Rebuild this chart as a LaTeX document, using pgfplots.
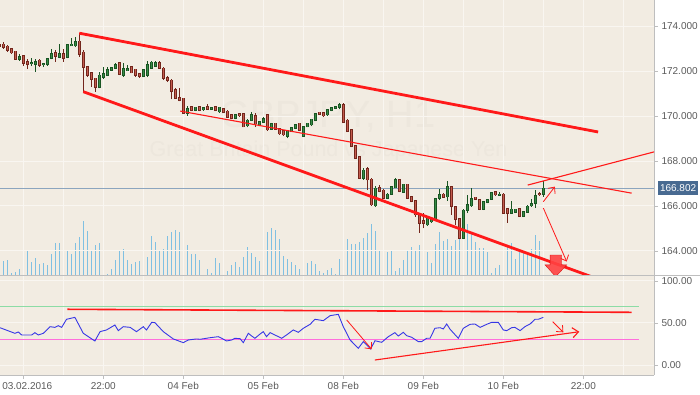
\documentclass[border=0pt]{standalone}
\usepackage{pgfplots}
\pgfplotsset{compat=1.18}
\usepackage{pgfplotstable}
\usetikzlibrary{arrows.meta}
\usepackage{fontspec}
\setmainfont{Liberation Sans}

\definecolor{bg}{RGB}{242,236,226}
\definecolor{gridc}{RGB}{249,246,241}
\definecolor{axisgray}{RGB}{190,190,190}
\definecolor{labelc}{RGB}{90,90,90}
\definecolor{volc}{RGB}{128,192,226}
\definecolor{rsiblue}{RGB}{55,55,230}
\definecolor{rsigreen}{RGB}{140,220,165}
\definecolor{rsipink}{RGB}{255,110,220}
\definecolor{trend}{RGB}{255,25,25}
\definecolor{bigarrow}{RGB}{255,65,65}
\definecolor{pricec}{RGB}{140,165,190}
\definecolor{boxc}{RGB}{72,106,145}
\definecolor{wm}{RGB}{237,231,221}
\definecolor{upfill}{RGB}{55,140,70}
\definecolor{upedge}{RGB}{25,85,35}
\definecolor{dnfill}{RGB}{196,92,78}
\definecolor{dnedge}{RGB}{115,38,28}

\pgfplotstableread{
i o h l c
-1 173.17 173.24 173.02 173.11
0 173.20 173.28 173.00 173.05
1 173.11 173.16 172.86 172.93
2 172.98 173.02 172.76 172.81
3 172.88 172.90 172.49 172.52
4 172.52 172.74 172.46 172.64
5 172.67 172.71 172.22 172.34
6 172.41 172.52 172.08 172.28
7 172.33 172.56 172.22 172.36
8 172.28 172.53 171.97 172.43
9 172.48 172.52 172.19 172.25
10 172.28 172.37 172.17 172.34
11 172.28 172.57 172.24 172.55
12 172.55 172.98 172.52 172.76
13 172.81 172.93 172.41 172.64
14 172.61 173.20 172.56 172.76
15 172.79 173.00 172.41 172.56
16 172.59 173.20 172.56 173.16
17 173.12 173.45 173.11 173.20
18 173.12 173.50 173.08 173.29
19 173.33 173.70 172.64 172.74
20 172.84 172.93 171.08 172.17
21 172.19 172.22 171.75 171.82
22 171.92 171.96 171.30 171.63
23 171.68 171.70 171.08 171.26
24 171.26 171.97 171.23 171.82
25 171.73 172.19 171.64 171.87
26 171.79 172.18 171.77 172.05
27 172.03 172.19 172.00 172.15
28 172.12 172.37 172.09 172.30
29 172.37 172.40 171.82 171.85
30 171.82 172.34 171.75 172.12
31 172.01 172.27 171.99 172.09
32 172.19 172.22 171.90 171.92
33 172.08 172.10 171.75 171.82
34 171.90 171.93 171.69 171.75
35 171.75 172.08 171.72 172.05
36 171.82 172.44 171.73 172.27
37 172.13 172.44 172.09 172.40
38 172.22 172.46 172.18 172.38
39 172.38 172.43 172.09 172.12
40 172.13 172.17 171.60 171.68
41 171.72 171.77 171.51 171.57
42 171.60 171.63 170.74 171.08
43 171.16 171.25 170.76 170.79
44 170.83 171.23 170.65 170.68
45 170.79 170.81 170.09 170.12
46 170.12 170.45 170.01 170.34
47 170.41 170.45 170.21 170.24
48 170.24 170.41 170.21 170.39
49 170.41 170.45 170.21 170.24
50 170.27 170.39 170.24 170.36
51 170.41 170.52 170.27 170.30
52 170.30 170.40 170.27 170.37
53 170.41 170.45 170.21 170.24
54 170.18 170.41 170.15 170.39
55 170.34 170.37 170.12 170.15
56 170.22 170.25 169.91 169.94
57 170.05 170.08 169.85 169.88
58 169.88 170.08 169.85 170.05
59 170.09 170.12 169.97 170.00
60 170.12 170.15 169.50 169.52
61 169.56 169.86 169.50 169.82
62 169.79 170.19 169.77 170.05
63 170.02 170.12 169.52 169.65
64 169.60 169.79 169.57 169.75
65 169.70 169.96 169.68 169.90
66 170.05 170.08 169.35 169.38
67 169.41 169.68 169.38 169.65
68 169.68 169.71 169.38 169.41
69 169.45 169.48 169.17 169.20
70 169.35 169.38 169.11 169.16
71 169.11 169.38 169.01 169.35
72 169.30 169.52 169.28 169.50
73 169.45 169.66 169.42 169.63
74 169.68 169.71 169.32 169.35
75 169.11 169.56 169.08 169.52
76 169.52 169.71 169.50 169.68
77 169.60 169.88 169.57 169.86
78 169.79 170.15 169.77 170.12
79 170.17 170.19 170.05 170.08
80 170.15 170.18 169.97 170.00
81 170.05 170.33 170.01 170.30
82 170.24 170.40 170.21 170.37
83 170.34 170.45 170.31 170.41
84 170.39 170.59 170.30 170.49
85 170.52 170.59 169.68 169.70
86 169.82 169.86 169.28 169.30
87 169.38 169.41 168.61 168.64
88 168.67 168.70 168.10 168.13
89 168.19 168.22 167.20 167.23
90 167.23 167.69 167.16 167.60
91 167.65 167.73 166.71 167.16
92 167.20 167.23 166.00 166.05
93 166.00 166.89 165.96 166.79
94 166.81 166.93 166.61 166.64
95 166.71 166.74 166.31 166.34
96 166.34 166.56 166.31 166.53
97 166.53 166.89 166.49 166.86
98 166.81 167.24 166.79 167.16
99 167.16 167.20 166.61 166.64
100 166.61 166.99 166.58 166.97
101 166.97 166.99 166.31 166.34
102 166.41 166.45 166.16 166.19
103 166.24 166.27 165.53 165.60
104 165.68 165.70 164.81 165.23
105 165.35 165.68 165.01 165.23
106 165.16 165.56 165.11 165.53
107 165.29 165.47 165.25 165.42
108 165.38 166.37 165.35 166.34
109 166.34 166.76 166.27 166.49
110 166.53 166.56 166.36 166.39
111 166.41 167.12 166.24 166.86
112 166.86 166.89 165.60 165.97
113 165.97 166.00 165.16 165.41
114 165.45 165.48 164.53 164.57
115 164.57 165.85 164.53 165.82
116 165.79 166.49 165.68 166.05
117 166.00 166.79 165.96 166.34
118 166.39 166.41 166.27 166.30
119 166.30 166.33 165.82 165.86
120 165.86 166.22 165.82 166.19
121 166.15 166.33 166.12 166.30
122 166.30 166.62 166.27 166.59
123 166.64 166.67 166.46 166.49
124 166.48 166.64 166.45 166.53
125 166.53 166.56 165.65 165.68
126 165.90 165.92 165.26 165.68
127 165.68 166.24 165.65 165.86
128 165.72 165.88 165.69 165.86
129 165.90 165.92 165.50 165.53
130 165.53 165.78 165.50 165.75
131 165.72 166.03 165.69 166.00
132 166.00 166.30 165.97 166.12
133 166.12 166.71 165.90 166.45
134 166.56 166.64 166.45 166.49
135 166.53 167.12 166.41 166.80
}\candles

\pgfplotstableread{
i v
0 14
1 15
2 1.7
3 3
4 6
5 24
6 24
7 13
8 17
9 11
10 12
11 10
12 21
13 32
14 32
15 32
16 24
17 21
18 32
19 38
20 54
21 44
22 25
23 30
24 32
25 23
26 0.7
27 6
28 15
29 25
30 26
31 15
32 11
33 13
34 14
35 7
36 18
37 39
38 33
39 25
40 26
41 39
42 43
43 45
44 43
45 39
46 30
47 21
48 21
49 15
50 0.5
51 6
52 2
53 17
54 12
55 8
56 4
57 10
58 13
59 8
60 18
61 28
62 22
63 18
64 14
65 14
66 43
67 47
68 45
69 36
70 19
71 16
72 13
73 10
74 6
75 0.5
76 12
77 14
78 11
79 4
80 2
81 5
82 7
83 1
84 16
85 33
86 36
87 31
88 31
89 33
90 37
91 42
92 51
93 44
94 24
95 23
96 23
97 24
98 4
99 7
100 15
101 24
102 28
103 24
104 30
105 22
106 23
107 12
108 31
109 43
110 34
111 36
112 29
113 35
114 44
115 38
116 51
117 42
118 33
119 27
120 27
121 23
122 2
123 7
124 10
125 27
126 28
127 32
128 16
129 23
130 23
131 21
132 26
133 40
134 34
135 23
}\vol

\pgfplotstableread{
i r
-0.83 44.4
2.9 37.7
3.75 39.3
4.6 35.7
7.1 35.7
7.9 38.5
8.75 35.7
10 37.7
11.7 45.6
12.9 44.8
13.75 46.8
14.6 44.8
15.8 54.4
17.9 56.7
20 37.7
22.9 28.6
24.2 39.7
25.8 41.7
27.9 47.6
28.75 40.9
30 45.6
31.7 44.8
33.3 39.7
35 45.6
35.8 41.7
37.1 50.8
37.9 50.4
40 39.7
42.5 31
45 26.6
46.25 29.8
48.3 31
49.2 30.6
51.7 32.5
53.75 33.7
54.6 31.8
55.8 28.6
57.1 29.8
57.9 31.8
59.2 31.3
60 26.6
61.25 37.7
62.1 34.5
62.9 31.8
64.2 36.9
65 39.7
65.8 33.7
66.7 38.5
69.6 31.8
70.8 35.7
72.5 41.7
73.75 38.9
75 43.7
76.7 48.4
77.9 54.4
80 52.8
81.7 58.7
83.75 60.3
85 45.6
86.7 29.8
88.75 19.9
90 27.8
90.85 23.8
91.85 19
92.9 28.9
94.6 27
96.25 33.7
97.9 38.5
98.75 34.5
100 38.9
100.85 34.9
102.1 33
103.75 27.8
104.6 27.8
105.85 31.8
106.7 31.8
107.9 43.7
109.2 44.4
110 42.9
110.85 48.8
111.7 42.5
113.75 31.8
115 43.7
116.7 48.4
117.9 48.8
119.2 44.8
120.85 48.4
122.1 50.8
123.75 50.8
125 41.7
125.85 40.9
127.1 44.4
127.9 44.8
129.2 40.9
130.4 45.6
131.7 48.8
132.9 54.4
133.75 54.4
135 56.7
}\rsi

\pgfplotsset{
  chartbase/.style={
    scale only axis, width=654pt,
    xmin=-0.825, xmax=162.675,
    tick align=outside, major tick length=4pt,
    grid style={draw=gridc, line width=1pt},
    ticklabel style={font=\fontsize{10}{12}\selectfont, text=labelc},
    /pgf/number format/assume math mode=true,
  },
  wick/.style={draw=none, mark=none, error bars/.cd, y dir=plus, y explicit, error mark=none,
    error bar style={draw=#1, line width=0.8pt, solid}},
  body/.style 2 args={draw=none, mark=none, error bars/.cd, y dir=plus, y explicit, error mark=none,
    error bar style={draw=#1, line width=#2, solid}},
  arr/.style={trend, line width=0.8pt, -{Straight Barb[length=5pt,width=9pt]}},
}

\begin{document}
\begin{tikzpicture}
\useasboundingbox (0pt,0pt) rectangle (700pt,394pt);
\fill[bg] (0pt,19pt) rectangle (654pt,394pt);
\node[anchor=base, text=wm, font=\fontsize{38}{40}\selectfont, inner sep=0pt] at (328pt,266pt) {GBPJPY, H1};
\node[anchor=base, text=wm, font=\fontsize{21.5}{24}\selectfont, inner sep=0pt] at (328.5pt,237pt) {Great Britain Pound vs Japanese Yen};

% volume
\begin{axis}[chartbase, at={(0pt,119pt)}, anchor=south west, height=275pt,
  ymin=0, ymax=275, hide axis]
\addplot[ycomb, draw=volc, line width=1.2pt, mark=none] table[x=i, y=v] {\vol};
\end{axis}

% price
\begin{axis}[chartbase, at={(0pt,119pt)}, anchor=south west, height=275pt,
  ymin=162.933, ymax=175.156,
  axis x line*=bottom, axis y line*=right,
  x axis line style={draw=none},
  y axis line style={draw=axisgray, line width=0.8pt, -},
  xtick={5,15,...,155}, xticklabels={}, xtick style={draw=none},
  ytick={164,166,...,174},
  ytick style={draw=axisgray, line width=0.6pt},
  xmajorgrids, ymajorgrids,
  yticklabel style={/pgf/number format/fixed, /pgf/number format/fixed zerofill, /pgf/number format/precision=3},
]
\addplot[pricec, line width=0.8pt] coordinates {(-0.825,166.802) (162.675,166.802)};
\coordinate (lp) at (axis cs:162.675,166.802);
% wicks
\addplot[wick=upedge] table[x=i, y expr={\thisrow{c}>=\thisrow{o} ? \thisrow{l} : nan}, y error expr={\thisrow{h}-\thisrow{l}}] {\candles};
\addplot[wick=dnedge] table[x=i, y expr={\thisrow{c}<\thisrow{o} ? \thisrow{l} : nan}, y error expr={\thisrow{h}-\thisrow{l}}] {\candles};
% bodies up
\addplot[body={upedge}{3.2pt}] table[x=i, y expr={\thisrow{c}>=\thisrow{o} ? \thisrow{o}-0.022 : nan}, y error expr={\thisrow{c}-\thisrow{o}+0.044}] {\candles};
\addplot[body={upfill}{1.6pt}] table[x=i, y expr={\thisrow{c}>=\thisrow{o} ? \thisrow{o}+0.012 : nan}, y error expr={max(\thisrow{c}-\thisrow{o}-0.024,0)}] {\candles};
% bodies down
\addplot[body={dnedge}{3.2pt}] table[x=i, y expr={\thisrow{c}<\thisrow{o} ? \thisrow{c}-0.022 : nan}, y error expr={\thisrow{o}-\thisrow{c}+0.044}] {\candles};
\addplot[body={dnfill}{1.6pt}] table[x=i, y expr={\thisrow{c}<\thisrow{o} ? \thisrow{c}+0.012 : nan}, y error expr={max(\thisrow{o}-\thisrow{c}-0.024,0)}] {\candles};
% trend lines
\addplot[trend, line width=2.8pt] coordinates {(19,173.68) (148.7,169.29)};
\addplot[trend, line width=2.8pt] coordinates {(20,171.08) (147,162.86)};
\addplot[trend, line width=1.1pt] coordinates {(44.2,170.22) (157.1,166.57)};
\addplot[trend, line width=1.1pt] coordinates {(131.1,166.93) (163,168.42)};
\addplot[arr] coordinates {(135,166.19) (137.9,166.86)};
\addplot[arr] coordinates {(135,165.91) (140.85,163.53)};
\addplot[fill=bigarrow, draw=trend!85!black, line width=0.4pt, fill opacity=0.9] coordinates {(136.7,163.82) (139.6,163.82) (139.6,163.38) (140.85,163.38) (138.1,162.86) (135.45,163.38) (136.7,163.38)} -- cycle;
\end{axis}

% RSI
\begin{axis}[chartbase, at={(0pt,19pt)}, anchor=south west, height=100pt,
  ymin=-11.9, ymax=107.1,
  axis x line*=bottom, axis y line*=right,
  axis line style={draw=axisgray, line width=0.8pt, -},
  xtick={5,25,...,145},
  xticklabels={\makebox[58pt][r]{03.02.2016},22:00,04 Feb,05 Feb,08 Feb,09 Feb,10 Feb,22:00},
  minor xtick={15,35,...,155}, minor tick length=0pt,
  xmajorgrids, xminorgrids, ymajorgrids,
  ytick={0,50,100},
  tick style={draw=axisgray, line width=0.6pt},
  yticklabel style={/pgf/number format/fixed, /pgf/number format/fixed zerofill, /pgf/number format/precision=2},
]
\addplot[rsigreen, line width=1pt] coordinates {(-0.825,70) (158.9,70)};
\addplot[rsipink, line width=1pt] coordinates {(-0.825,30) (158.9,30)};
\addplot[trend, line width=1.6pt] coordinates {(16,66.3) (157.1,62.7)};
\addplot[rsiblue, line width=0.9pt] table[x=i, y=r] {\rsi};
\addplot[arr] coordinates {(85.85,53.6) (92.1,18.7)};
\addplot[trend, line width=1.1pt, -{Straight Barb[length=6pt,width=10pt]}] coordinates {(92.9,5.95) (144,39.6)};
\addplot[arr] coordinates {(137.35,51.5) (140,38.9)};
\end{axis}

\draw[axisgray, line width=0.8pt] (0pt,119pt) -- (700pt,119pt);
\node[fill=boxc, text=white, anchor=west, inner xsep=1.8pt, inner ysep=0pt, minimum height=14pt, font=\fontsize{10}{12}\selectfont] at ([xshift=4pt]lp) {166.802};
\end{tikzpicture}
\end{document}
